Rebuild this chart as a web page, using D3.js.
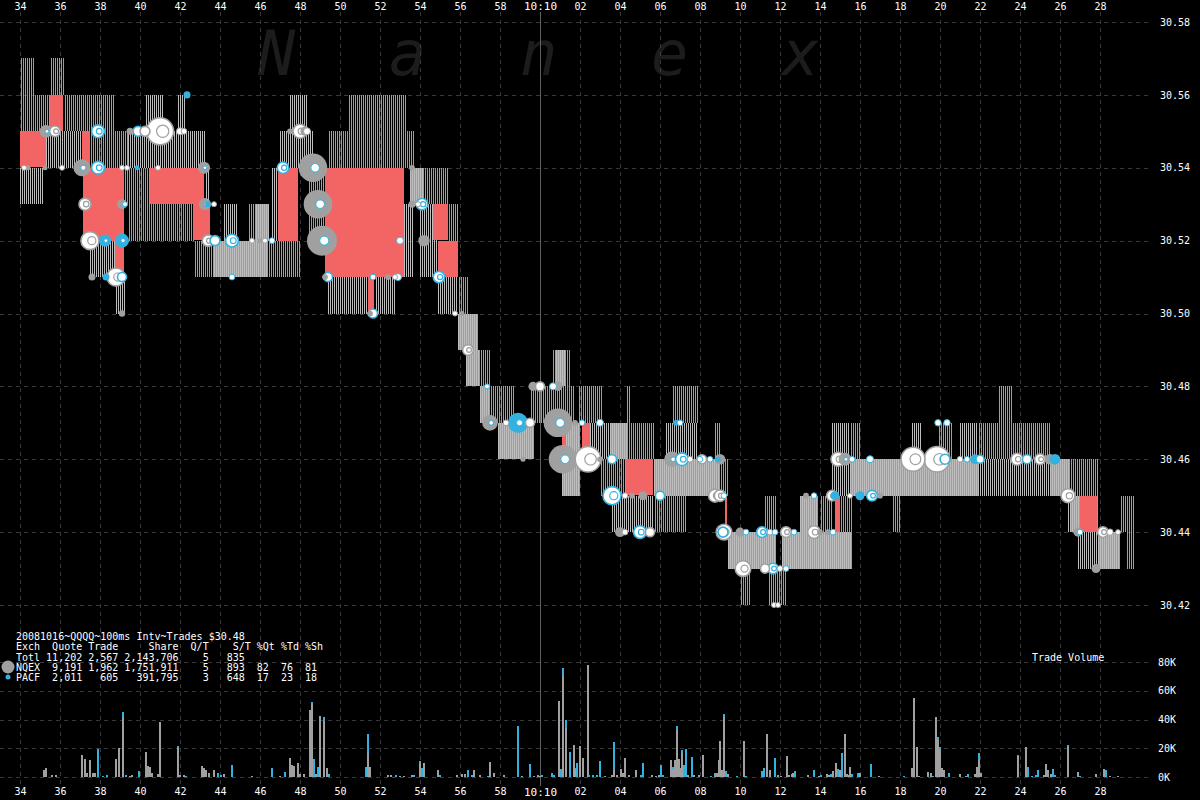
<!DOCTYPE html>
<html><head><meta charset="utf-8">
<script src="https://cdn.jsdelivr.net/npm/d3@7"></script>
<style>
html,body{margin:0;padding:0;background:#000;}
svg{display:block;}
text{font-family:"DejaVu Sans Mono",monospace;}
</style></head><body>
<svg id="c" width="1200" height="800"></svg>
<script>
// ---------- DATA ----------
const timeTicks = [34,36,38,40,42,44,46,48,50,52,54,56,58,60,62,64,66,68,70,72,74,76,78,80,82,84,86,88];
const timeLabels = ["34","36","38","40","42","44","46","48","50","52","54","56","58","10:10","02","04","06","08","10","12","14","16","18","20","22","24","26","28"];
const priceTicks = [30.42,30.44,30.46,30.48,30.50,30.52,30.54,30.56,30.58];
const volTicks = [0,20000,40000,60000,80000];

// quote spans: [startSec, endSec, lowPrice, highPrice]  (seconds after 10:09:00)
const nqexQuotes = [
[34.0,35.15,30.53,30.54],[35.3,37.1,30.54,30.55],[37.5,38.75,30.51,30.52],
[38.75,39.2,30.50,30.51],[39.35,43.25,30.54,30.55],[40.3,41.15,30.55,30.56],[41.9,42.25,30.55,30.56],
[43.25,43.5,30.52,30.54],[43.65,46.4,30.51,30.52],[44.15,44.85,30.52,30.53],[45.7,46.5,30.52,30.53],
[46.6,47.0,30.52,30.54],[47.5,48.35,30.55,30.56],[47.0,48.65,30.54,30.55],[49.35,51.4,30.50,30.51],
[51.7,52.75,30.50,30.51],[53.1,53.65,30.51,30.53],[53.5,54.15,30.53,30.54],[54.0,54.85,30.51,30.53],
[54.9,55.85,30.50,30.51],[55.9,56.9,30.49,30.50],[56.2,57.0,30.48,30.49],[57.0,57.5,30.47,30.48],
[57.85,59.65,30.46,30.47],[60.8,61.3,30.48,30.49],[61.1,62.0,30.45,30.47],[62.5,64.35,30.46,30.47],
[63.6,65.65,30.44,30.45],[65.65,69.0,30.45,30.46],[66.25,67.85,30.46,30.47],[69.35,71.75,30.43,30.44],
[72.1,75.6,30.43,30.44],[73.0,73.85,30.43,30.45],[74.6,75.5,30.45,30.47],[75.5,81.85,30.45,30.46],
[78.6,79.0,30.46,30.47],[81.0,81.85,30.46,30.47],[81.85,85.4,30.45,30.46],[85.4,86.5,30.45,30.46],
[86.4,87.0,30.44,30.45],[86.9,87.85,30.43,30.44],[87.85,89.0,30.43,30.44]
];
const pacfQuotes = [
[34.0,34.65,30.55,30.57],[34.65,35.5,30.55,30.56],[35.5,36.15,30.56,30.57],[36.15,38.6,30.55,30.56],
[37.5,39.35,30.54,30.55],[39.1,39.35,30.53,30.54],[39.35,40.5,30.52,30.54],[40.5,42.65,30.52,30.53],
[42.6,48.0,30.51,30.52],[45.35,46.4,30.52,30.53],[48.4,49.25,30.52,30.54],[50.35,53.2,30.55,30.56],
[49.35,53.65,30.54,30.55],[53.5,55.35,30.53,30.54],[55.4,55.9,30.52,30.53],[55.85,56.4,30.49,30.51],
[55.9,56.9,30.49,30.50],[56.2,57.5,30.48,30.49],[57.0,58.65,30.47,30.48],[57.85,59.65,30.46,30.47],
[59.5,61.65,30.47,30.48],[60.6,61.5,30.48,30.49],[61.9,63.1,30.47,30.48],[61.1,62.0,30.45,30.47],
[63.5,64.5,30.46,30.47],[63.0,64.35,30.45,30.46],[64.15,65.65,30.46,30.47],[64.3,64.4,30.47,30.48],
[65.65,67.25,30.44,30.45],[65.65,69.35,30.45,30.46],[66.6,67.85,30.47,30.48],[68.7,69.0,30.46,30.47],
[69.35,71.75,30.43,30.44],[69.9,70.5,30.42,30.43],[71.15,71.75,30.44,30.45],[72.1,75.6,30.43,30.44],
[71.35,72.25,30.42,30.43],[73.0,73.85,30.44,30.45],[74.0,74.6,30.44,30.45],[75.0,75.6,30.43,30.45],
[75.5,81.85,30.45,30.46],[75.5,76.0,30.46,30.47],[77.6,78.0,30.44,30.45],[79.85,80.5,30.46,30.47],
[81.85,85.5,30.46,30.47],[82.85,83.6,30.47,30.48],[85.4,86.5,30.45,30.46],[86.5,87.85,30.44,30.46],
[87.85,89.0,30.43,30.44],[88.9,89.65,30.44,30.45],[89.3,89.65,30.43,30.44]
];
const crossedQuotes = [
[34.0,35.3,30.54,30.55],[35.5,36.15,30.55,30.56],[37.1,37.5,30.54,30.55],[37.15,39.2,30.52,30.54],
[38.75,39.2,30.51,30.52],[40.5,43.2,30.53,30.54],[42.65,43.5,30.52,30.53],[46.9,47.9,30.52,30.54],
[49.25,53.2,30.51,30.54],[51.4,51.7,30.50,30.51],[54.65,55.4,30.52,30.53],[54.9,55.9,30.51,30.52],
[61.1,61.3,30.46,30.47],[62.1,62.5,30.46,30.47],[64.3,65.65,30.45,30.46],[69.25,69.35,30.44,30.45],
[74.75,75.0,30.44,30.45],[87.0,87.85,30.44,30.45]
];
// trades: [sec, price, shares, exchange, style]
const trades = [
[35.3,30.55,10000,'N','f'],[35.75,30.55,7000,'N','w'],[37.9,30.55,10000,'P','w'],[37.1,30.54,18000,'N','f'],
[34.2,30.54,1000,'N','w'],[34.4,30.54,1500,'N','f'],[35.25,30.54,1500,'N','f'],[36.1,30.54,1000,'N','w'],
[37.9,30.54,10000,'P','w'],[39.1,30.54,1500,'N','w'],[39.35,30.54,1500,'N','w'],[39.85,30.54,1500,'P','f'],
[39.5,30.55,3000,'N','f'],[39.9,30.55,6000,'P','w'],[40.25,30.55,6000,'N','w'],[41.0,30.55,45000,'N','w'],
[42.0,30.55,3000,'N','w'],[42.2,30.55,2000,'N','w'],[40.9,30.54,1500,'N','w'],[43.2,30.54,9000,'N','f'],
[43.25,30.53,9000,'N','f'],[43.4,30.53,2000,'P','f'],[43.7,30.53,1500,'N','w'],[37.25,30.53,9000,'N','w'],
[39.1,30.53,6000,'N','f'],[39.25,30.53,1500,'P','w'],[37.5,30.52,20000,'N','w'],[38.25,30.52,9000,'P','f'],
[39.1,30.52,12000,'P','f'],[43.4,30.52,8000,'N','w'],[43.75,30.52,6000,'P','w'],[44.6,30.52,10000,'P','w'],
[45.6,30.52,1500,'N','w'],[46.0,30.52,1500,'N','f'],[46.25,30.52,1500,'N','w'],[46.6,30.52,2000,'P','w'],
[37.6,30.51,3000,'N','f'],[38.3,30.51,3000,'P','f'],[38.8,30.51,20000,'N','w'],[39.1,30.51,5000,'P','w'],
[39.1,30.50,2500,'N','f'],[44.6,30.51,2000,'P','w'],[42.35,30.56,3000,'P','f'],
[47.5,30.55,2000,'N','f'],[48.0,30.55,12000,'N','w'],[48.25,30.55,5000,'N','f'],[48.35,30.55,3000,'N','w'],
[47.15,30.54,8000,'P','w'],[48.65,30.54,50000,'N','f'],[48.9,30.53,50000,'N','f'],[49.1,30.52,55000,'N','f'],
[49.25,30.51,2000,'N','f'],[49.4,30.51,5000,'P','w'],[51.5,30.50,2000,'N','f'],[51.65,30.50,5000,'P','w'],
[51.65,30.51,2000,'P','w'],[52.4,30.51,2000,'N','f'],[52.75,30.51,1500,'N','w'],[52.9,30.51,3000,'P','w'],
[53.0,30.52,3000,'P','w'],[54.2,30.52,8000,'N','f'],[53.6,30.53,3000,'N','f'],[53.9,30.53,1500,'N','w'],
[54.1,30.53,8000,'P','w'],[53.6,30.54,2000,'N','f'],[54.95,30.51,8000,'P','w'],[55.75,30.50,1500,'N','w'],
[56.1,30.50,1500,'N','f'],[56.4,30.49,7000,'N','w'],
[57.35,30.48,1500,'P','w'],[59.65,30.48,5000,'N','f'],[60.0,30.48,5000,'N','w'],[60.65,30.48,3000,'P','w'],
[60.9,30.48,5000,'N','f'],[57.5,30.47,15000,'N','f'],[58.3,30.47,2000,'N','w'],[58.9,30.47,25000,'P','f'],
[59.5,30.47,5000,'N','w'],[60.9,30.47,50000,'N','f'],[61.75,30.47,2000,'N','f'],[62.1,30.47,2000,'P','w'],
[63.0,30.47,3000,'P','w'],[61.15,30.46,50000,'N','f'],[62.4,30.46,40000,'N','w'],[63.0,30.46,2000,'N','f'],
[63.6,30.46,5000,'P','w'],[59.15,30.46,1500,'N','f'],[63.6,30.45,20000,'P','w'],[64.25,30.45,2000,'N','w'],
[64.6,30.45,2000,'N','f'],[65.15,30.45,5000,'N','f'],[66.0,30.45,5000,'P','w'],[64.0,30.44,6000,'N','f'],
[64.25,30.44,2000,'N','w'],[65.0,30.44,10000,'P','w'],[65.5,30.44,5000,'N','w'],[66.8,30.47,2000,'P','f'],
[67.0,30.47,2000,'P','w'],[66.6,30.46,15000,'N','f'],[67.1,30.46,10000,'P','w'],[67.5,30.46,2000,'N','w'],
[68.0,30.46,2000,'P','w'],[69.0,30.45,8000,'N','w'],[69.15,30.44,6000,'P','w'],
[68.1,30.46,5000,'N','w'],[68.5,30.46,2000,'P','w'],[68.9,30.46,2000,'P','f'],[69.0,30.46,7000,'N','f'],
[68.75,30.45,10000,'N','w'],[69.2,30.45,2000,'P','w'],[69.2,30.44,15000,'N','w'],[70.0,30.44,5000,'N','f'],
[70.3,30.44,2000,'P','w'],[71.1,30.44,7000,'P','w'],[71.5,30.44,2000,'N','w'],[71.75,30.44,2000,'P','w'],
[72.3,30.44,7000,'N','w'],[72.7,30.44,2000,'P','w'],[73.7,30.44,10000,'N','w'],[74.0,30.44,2000,'N','f'],
[74.4,30.44,2000,'N','f'],[74.65,30.44,2000,'P','w'],[70.15,30.43,15000,'N','w'],[71.25,30.43,5000,'N','w'],
[71.65,30.43,7000,'P','w'],[72.0,30.43,2000,'N','w'],[72.3,30.43,2000,'P','w'],[71.7,30.42,1500,'N','w'],
[71.9,30.42,1500,'N','w'],[73.3,30.45,2000,'N','f'],[73.7,30.45,2000,'P','w'],[74.6,30.45,7000,'N','w'],
[74.75,30.45,5000,'P','f'],[75.5,30.45,1500,'N','w'],[76.0,30.45,5000,'P','f'],[76.6,30.45,7000,'P','w'],
[77.0,30.45,2000,'N','f'],[74.9,30.46,12000,'N','w'],[75.25,30.46,10000,'N','f'],[75.6,30.46,2000,'P','w'],
[76.5,30.46,3000,'P','w'],
[78.65,30.46,35000,'N','w'],[79.85,30.46,40000,'N','w'],[80.25,30.46,6000,'P','w'],[81.0,30.46,2000,'N','w'],
[81.35,30.46,2000,'P','w'],[81.75,30.46,6000,'P','f'],[82.0,30.46,4000,'P','w'],[79.9,30.47,2500,'P','w'],
[80.35,30.47,2500,'P','w'],[83.85,30.46,9000,'N','w'],[84.35,30.46,5000,'P','w'],[85.0,30.46,7000,'N','w'],
[85.5,30.46,7000,'N','f'],[85.75,30.46,7000,'P','f'],[86.4,30.45,12000,'N','w'],[86.9,30.44,5000,'N','f'],
[87.0,30.44,2000,'P','w'],[88.15,30.44,7000,'N','w'],[88.5,30.44,2500,'N','w'],[88.9,30.44,1500,'N','w'],
[87.8,30.43,5000,'N','f']
];
// volume per 100ms: [sec, NQEX shares, PACF shares]
const volumes = [
[34.25,300,0],[34.45,300,0],[35.2,5000,0],[35.32,6200,0],[35.62,1600,0],[35.82,1600,0],
[37.1,15400,0],[37.23,12600,0],[37.35,2800,0],[37.5,12000,0],[37.63,2800,0],[37.73,2800,0],
[37.92,0,19500],[38.15,0,500],[38.35,0,1500],[38.82,12600,0],[38.94,20000,0],[39.13,42000,3500],
[39.3,0,1500],[39.5,500,0],[39.6,1600,0],[39.93,0,4400],[40.3,17500,0],[40.4,8000,0],[40.5,6900,0],
[40.6,2800,0],[40.9,2000,0],[40.98,38000,0],[41.9,20000,1500],[42.0,1600,0],[42.2,1600,0],[42.3,0,500],
[43.1,7800,0],[43.2,6400,0],[43.3,4600,0],[43.45,2800,0],[43.7,5000,0],[43.9,0,2800],[44.05,0,1600],
[44.2,2000,0],[44.6,0,8500],[45.6,1000,0],[46.0,300,0],[46.3,300,0],[46.6,0,6400],[47.0,500,0],
[47.23,0,3700],[47.48,13300,0],[47.6,8300,0],[47.7,7800,0],[47.9,10000,0],[48.0,2000,0],[48.2,2000,0],
[48.48,46500,0],[48.6,50500,2000],[48.7,0,12600],[48.8,2000,0],[48.9,0,7000],[49.0,42500,0],
[49.2,39000,2400],[49.35,6000,0],[49.45,0,2300],[51.3,0,7000],[51.4,16500,13500],[51.5,7300,0],
[52.4,1500,0],[52.55,1200,0],[52.8,0,1500],[53.0,1000,0],[53.2,400,0],[53.6,1500,0],[53.7,0,1500],
[54.0,9500,1500],[54.1,0,6200],[54.2,10000,0],[54.9,5000,0],[55.0,0,1500],[55.85,1500,0],[56.1,2000,0],
[56.25,2000,0],[56.4,0,5000],[56.6,0,1500],[56.7,5000,0],[57.0,1500,0],[57.4,0,500],[57.5,10600,0],
[57.7,2800,0],[58.2,1500,0],[58.9,0,35700],[59.1,500,0],[59.5,0,9200],[59.7,1000,0],[59.9,1500,0],
[60.0,1000,0],[60.1,0,1200],[60.6,0,3000],[60.7,0,1500],[60.95,53000,0],[61.05,0,5500],[61.13,70000,6000],
[61.3,34000,5500],[61.5,0,17700],[61.7,22300,0],[61.8,5000,1500],[61.85,0,9600],[62.0,21600,0],
[62.15,13000,0],[62.4,78000,0],[62.45,0,1500],[62.65,0,1200],[62.85,0,1200],[63.0,0,10800],[63.25,1000,0],
[63.6,1500,0],[63.7,5000,19400],[63.85,1500,0],[64.05,5500,0],[64.15,3000,0],[64.25,13100,0],[64.45,1500,0],
[64.8,5000,0],[65.07,0,1500],[65.15,0,9700],[65.6,1500,0],[65.8,1000,0],[65.95,1500,0],[66.05,0,8500],
[66.15,0,1500],[66.55,12000,0],[66.65,5500,1500],[66.75,12000,0],[66.85,32700,2800],[66.95,12600,0],
[67.05,6200,0],[67.1,17000,1800],[67.2,0,8500],[67.3,0,19500],[67.4,1500,0],[67.6,0,14000],[67.7,1500,0],
[67.97,1500,0],[68.13,15400,0],[68.55,0,1000],[68.75,1500,1500],[68.85,3000,0],[68.93,12000,0],
[69.0,25000,0],[69.1,5000,0],[69.2,42000,1700],[69.3,0,3900],[69.4,2000,0],[69.85,0,500],[70.2,25000,0],
[70.3,0,500],[71.1,0,3900],[71.2,0,6200],[71.35,30000,0],[71.5,5000,0],[71.75,0,13100],[71.9,1500,0],
[72.05,1000,0],[72.35,14700,0],[72.45,1500,0],[72.6,2000,0],[72.65,2800,0],[72.75,0,4400],[73.4,1500,0],
[73.7,0,5000],[73.95,1000,0],[74.05,0,1500],[74.35,2000,0],[74.45,1500,0],[74.55,0,2000],[74.65,4400,0],
[74.8,10000,0],[74.9,0,5700],[75.0,5000,0],[75.1,0,17000],[75.25,29700,0],[75.35,2000,0],[75.45,1500,0],
[75.5,7000,0],[75.6,0,2000],[75.9,0,2800],[76.0,2800,0],[76.55,0,9200],[76.95,500,0],[78.2,0,1000],
[78.6,6200,0],[78.7,55000,0],[78.85,21000,0],[78.95,500,0],[79.4,3500,0],[79.55,2800,0],[79.65,0,1000],
[79.8,42000,0],[79.9,26000,1500],[80.0,19000,1600],[80.1,6200,0],[80.2,5000,0],[80.45,0,2800],[81.0,2000,0],
[81.3,1000,0],[81.4,0,2000],[81.75,2300,0],[81.85,7000,0],[81.95,12000,4500],[82.05,3000,0],
[83.9,14300,700],[84.3,20700,0],[84.4,0,7000],[84.6,0,500],[84.8,0,1500],[84.9,0,5000],[85.2,1500,0],
[85.3,9200,0],[85.4,5000,0],[85.55,2000,0],[85.65,0,5500],[85.75,0,1500],[86.4,21000,1300],[86.9,3500,0],
[87.0,0,500],[87.8,2000,0],[88.2,5500,0],[88.3,0,4600],[88.5,500,0],[88.9,500,0]
];
const legendLines = [
"20081016~QQQQ~100ms Intv~Trades $30.48",
"Exch  Quote Trade     Share  Q/T    S/T %Qt %Td %Sh",
"Totl 11,202 2,567 2,143,706    5   835",
"NQEX  9,191 1,962 1,751,911    5   893  82  76  81",
"PACF  2,011   605   391,795    3   648  17  23  18"
];
const watermark = ["N","a","n","e","x"];

// ---------- CHART ----------
const W=1200,H=800;
const C = {N:'#a0a0a0', P:'#33b2e2', Nline:'#bdbdbd', Pline:'#40c0ee', red:'#f36464', grid:'#3a3a3a'};
const svg=d3.select('#c');
svg.append('rect').attr('width',W).attr('height',H).attr('fill','#000');

const x=d3.scaleLinear().domain([34,88]).range([20,1100]);
const y=d3.scaleLinear().domain([30.42,30.58]).range([605,22]);
const yv=d3.scaleLinear().domain([0,80000]).range([777,662]);
const r=d3.scaleSqrt().domain([0,55000]).range([0,15]);

// watermark
const wmX = d3.scalePoint().domain(d3.range(watermark.length)).range([258,782]);
svg.append('g').selectAll('text').data(watermark).join('text')
  .attr('x',(d,i)=>wmX(i)).attr('y',75)
  .attr('font-family','DejaVu Sans, sans-serif').attr('font-style','italic')
  .attr('font-size',62).attr('fill','#1c1c1c').text(d=>d);

// grid
const grid=svg.append('g').attr('stroke',C.grid).attr('stroke-dasharray','4,4').attr('shape-rendering','crispEdges');
grid.selectAll('line.v').data(timeTicks).join('line').attr('class','v')
  .attr('x1',d=>Math.round(x(d))+0.5).attr('x2',d=>Math.round(x(d))+0.5).attr('y1',12).attr('y2',786);
grid.selectAll('line.h').data(priceTicks).join('line').attr('class','h')
  .attr('x1',0).attr('x2',1152).attr('y1',d=>Math.round(y(d))+0.5).attr('y2',d=>Math.round(y(d))+0.5);
grid.selectAll('line.hv').data(volTicks).join('line').attr('class','hv')
  .attr('x1',0).attr('x2',1152).attr('y1',d=>Math.round(yv(d))+0.5).attr('y2',d=>Math.round(yv(d))+0.5);

// 10:10 line
svg.append('line').attr('x1',Math.round(x(60))+0.5).attr('x2',Math.round(x(60))+0.5)
  .attr('y1',12).attr('y2',786).attr('stroke','#606060').attr('shape-rendering','crispEdges');

// quote stripes: one 1px bar per 100ms interval
function stripes(spans, off, color, cls){
  const pts=[];
  spans.forEach(([s0,s1,lo,hi])=>{
    const a=Math.ceil(x(s0)/2)*2, b=x(s1);
    for(let px=a; px<b; px+=2) pts.push({px:px+off, y1:Math.round(y(hi)), y2:Math.round(y(lo))});
  });
  svg.append('g').attr('class',cls).selectAll('rect').data(pts).join('rect')
    .attr('x',d=>d.px).attr('width',1).attr('y',d=>d.y1).attr('height',d=>d.y2-d.y1)
    .attr('fill',color).attr('shape-rendering','crispEdges');
}
stripes(nqexQuotes,0,C.Nline,'nq');
stripes(pacfQuotes,1,C.Pline,'pa');

// crossed
svg.append('g').selectAll('rect').data(crossedQuotes).join('rect')
  .attr('x',d=>Math.round(x(d[0]))).attr('width',d=>Math.max(2,Math.round(x(d[1])-x(d[0]))))
  .attr('y',d=>Math.round(y(d[3]))).attr('height',d=>Math.round(y(d[2])-y(d[3])))
  .attr('fill',C.red).attr('shape-rendering','crispEdges');

// trades
const tr = trades.slice().sort((a,b)=>b[2]-a[2]);
const tg=svg.append('g');
tr.forEach(d=>{
  const rad=Math.max(2.5,r(d[2]));
  const col=C[d[3]];
  const cx=x(d[0]), cy=y(d[1]);
  if(d[4]==='f'){
    tg.append('circle').attr('cx',cx).attr('cy',cy).attr('r',rad).attr('fill',col);
    if(rad>=6) tg.append('circle').attr('cx',cx+rad*0.15).attr('cy',cy).attr('r',rad*0.3).attr('fill','#fff').attr('stroke',C.P).attr('stroke-width',1);
  } else {
    tg.append('circle').attr('cx',cx).attr('cy',cy).attr('r',rad).attr('fill','#fff').attr('stroke',col).attr('stroke-width',rad>4?1.6:1);
    if(rad>=5) tg.append('circle').attr('cx',cx+rad*0.2).attr('cy',cy).attr('r',rad*0.45).attr('fill','none').attr('stroke',col).attr('stroke-width',1.2);
  }
});

// volume bars
const vg=svg.append('g').attr('shape-rendering','crispEdges');
vg.selectAll('rect.vn').data(volumes.filter(d=>d[1]>0)).join('rect').attr('class','vn')
  .attr('x',d=>Math.round(x(d[0]))-1).attr('width',2)
  .attr('y',d=>yv(d[1])).attr('height',d=>yv(0)-yv(d[1])).attr('fill',C.N);
vg.selectAll('rect.vp').data(volumes.filter(d=>d[2]>0)).join('rect').attr('class','vp')
  .attr('x',d=>Math.round(x(d[0]))-1).attr('width',2)
  .attr('y',d=>yv(d[1]+d[2])).attr('height',d=>yv(d[1])-yv(d[1]+d[2])).attr('fill',C.P);

// axes
function styleAxis(g){
  g.select('.domain').remove();
  g.selectAll('text').attr('fill','#fff').attr('font-size',10).attr('font-family','DejaVu Sans Mono, monospace');
}
svg.append('g').attr('transform','translate(0,10)')
  .call(d3.axisTop(x).tickValues(timeTicks).tickFormat((d,i)=>timeLabels[i]).tickSize(0).tickPadding(0))
  .call(styleAxis).selectAll('text').filter(d=>d===60).attr('font-size',11);
svg.append('g').attr('transform','translate(0,788)')
  .call(d3.axisBottom(x).tickValues(timeTicks).tickFormat((d,i)=>timeLabels[i]).tickSize(0).tickPadding(0))
  .call(styleAxis).selectAll('text').filter(d=>d===60).attr('font-size',11);
svg.append('g').attr('transform','translate(1160,0)')
  .call(d3.axisRight(y).tickValues(priceTicks).tickFormat(d3.format('.2f')).tickSize(0).tickPadding(0))
  .call(styleAxis);
svg.append('g').attr('transform','translate(1158,0)')
  .call(d3.axisRight(yv).tickValues(volTicks).tickFormat(d=>(d/1000)+'K').tickSize(0).tickPadding(0))
  .call(styleAxis);

svg.append('text').attr('x',1032).attr('y',661).attr('fill','#fff').attr('font-size',10).text('Trade Volume');

// legend
svg.append('g').selectAll('text').data(legendLines).join('text')
  .attr('x',16).attr('y',(d,i)=>640+i*10.3).attr('fill','#fff').attr('font-size',10)
  .style('white-space','pre').attr('xml:space','preserve').text(d=>d);
svg.append('circle').attr('cx',8).attr('cy',667).attr('r',6.5).attr('fill',C.N);
svg.append('circle').attr('cx',8).attr('cy',677).attr('r',2.5).attr('fill',C.P);
</script>
</body></html>
